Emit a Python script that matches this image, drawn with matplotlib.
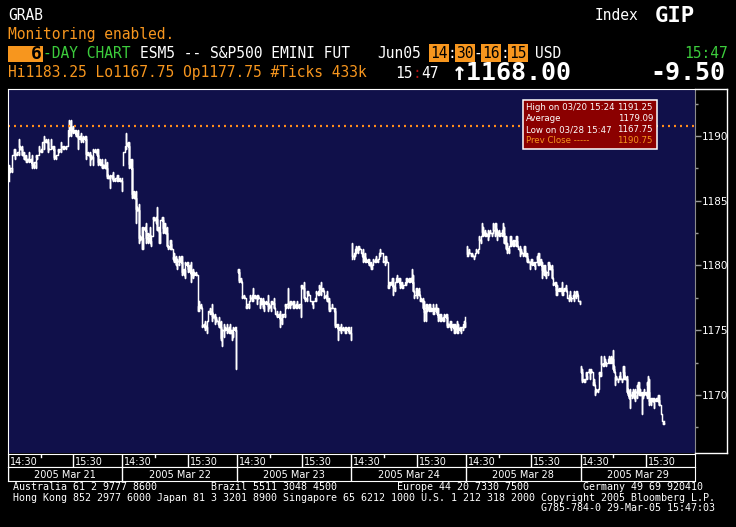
import numpy as np
import matplotlib.pyplot as plt
from matplotlib.lines import Line2D
from matplotlib.patches import Rectangle

W, H = 736, 527
BG = '#10104a'
ORANGE = '#f7961e'
GREEN = '#3ccc3c'
MONO = 'DejaVu Sans Mono'

days = ['2005 Mar 21', '2005 Mar 22', '2005 Mar 23', '2005 Mar 24', '2005 Mar 28', '2005 Mar 29']
time_labels = ['14:30', '15:30']
time_offsets = [0, 60]
session_minutes = 105     # 14:30 - 16:15
last_minutes = 77         # Mar 29 up to 15:47
prev_close = 1190.75
yticks = [1170, 1175, 1180, 1185, 1190]

info_labels = ['High on 03/20 15:24', 'Average', 'Low on 03/28 15:47', 'Prev Close -----']
info_values = ['1191.25', '1179.09', '1167.75', '1190.75']

mar21_hi = [1187.75, 1187.5, 1188.5, 1189, 1189, 1188.75, 1189.75, 1189.25, 1189.25, 1188.75,
            1188.5, 1188.25, 1188.75, 1188.25, 1188.5, 1188, 1188.5, 1188.5, 1189.25, 1189,
            1189.5, 1190, 1189.75, 1189.75, 1189, 1189.75, 1189.25, 1189.25, 1188.5, 1189,
            1189, 1189.5, 1189.25, 1189.25, 1189.25, 1190.5, 1191.25, 1191.25, 1190.75, 1190.5,
            1190.5, 1190.5, 1190, 1190.25, 1190, 1190, 1190, 1188.75, 1188.75, 1188.5,
            1189, 1189, 1189, 1189, 1188.25, 1188.25, 1187.75, 1188.25, 1188, 1187,
            1187, 1187, 1187.25, 1186.75, 1187, 1187, 1186.75, 1186.75]
mar21_lo = [1186.5, 1187.25, 1187.25, 1188.5, 1188.25, 1188.5, 1188.5, 1189, 1188.5, 1188.25,
            1188, 1188, 1188, 1188, 1187.5, 1187.5, 1187.5, 1188.25, 1188.5, 1188.75,
            1188.75, 1189, 1189.5, 1188.75, 1189, 1189, 1189, 1188.25, 1188.25, 1188.5,
            1188.75, 1188.75, 1189, 1189, 1189, 1189.25, 1190, 1190, 1190.25, 1190.25,
            1190, 1189, 1189.75, 1189.5, 1189.5, 1189.75, 1188.25, 1188.5, 1187.75, 1188.25,
            1187.75, 1188.75, 1188.5, 1187.75, 1187.75, 1187.5, 1187.5, 1187.5, 1186.75, 1186.75,
            1186, 1186.75, 1186.5, 1186.5, 1186.5, 1186.5, 1186.5, 1185.75]

mar22_hi = [1188.75, 1189.25, 1190.25, 1189.5, 1189.5, 1188.25, 1188.25, 1185.75, 1185.75, 1184.5,
            1184.75, 1182.25, 1183, 1183, 1183, 1183.25, 1182.5, 1183, 1182.25, 1183.75,
            1183.75, 1183.75, 1184.5, 1183, 1183.5, 1183.75, 1183.75, 1183.25, 1183, 1181.5,
            1182, 1182, 1181.25, 1181, 1180.75, 1180.5, 1180.75, 1180.75,
            1180.75, 1179.75, 1180.25, 1180.25, 1180.25, 1180, 1180.25, 1179.75, 1179.5, 1179.5,
            1179.25, 1177.25, 1177, 1176.75, 1175.5, 1175.75, 1175.75, 1176.5, 1176.75, 1177,
            1176.25, 1176.25, 1176, 1175.75, 1176, 1175.75, 1175, 1175.5, 1175.25, 1175.5,
            1175.25, 1175.5, 1175, 1175.25, 1175.25, 1175.25]
mar22_lo = [1187.75, 1189, 1189, 1189.25, 1187.5, 1187.5, 1185.25, 1185.25, 1183.25, 1184.25,
            1181.75, 1182, 1181.25, 1181.25, 1182.75, 1181.75, 1181.75, 1181.75, 1181.5, 1182.5,
            1183.5, 1183.25, 1182.75, 1181.75, 1181.75, 1183.5, 1182.5, 1182.5, 1181.5, 1181.25,
            1181.25, 1181.25, 1180.5, 1180.25, 1180, 1179.75, 1180, 1180.25,
            1179.25, 1179.25, 1179, 1180, 1179.5, 1179.5, 1178.75, 1179, 1179.25, 1179.25,
            1176.5, 1176.5, 1176.75, 1175.25, 1175.25, 1175, 1174.75, 1175.75, 1176.25, 1175.75,
            1176, 1175.5, 1175.75, 1175.5, 1175.25, 1174.25, 1173.75, 1174.5, 1175, 1174.75,
            1174.75, 1174.75, 1174.25, 1174.5, 1175, 1172]

mar23_hi = [1179.75, 1179.75, 1179, 1178.75, 1177.75, 1177.5, 1177, 1177.25, 1177.75, 1177.75,
            1178.25, 1177.75, 1177.75, 1177.75, 1177.5, 1177.5, 1177.5, 1177.25, 1177.25, 1177.75,
            1177, 1177.25, 1177.25, 1177.5, 1176.5, 1176.5, 1176.25, 1176.5, 1176.25, 1176.25,
            1177, 1177, 1178.25, 1177.25, 1177.25, 1177.25, 1177.25, 1177, 1177.25, 1177,
            1178.5, 1178.5, 1178.75, 1177.5, 1178, 1178, 1177.75, 1177.25, 1177.25, 1177.5,
            1178, 1178, 1178.5, 1178.75, 1178.25, 1178, 1177.75, 1178, 1177.5, 1176.75,
            1177, 1176.75, 1176.75, 1175.5, 1175.5, 1175.25, 1175.5, 1175.25, 1175.25, 1175.25,
            1175.25, 1175.25, 1175.25]
mar23_lo = [1179.5, 1178.75, 1178.75, 1177.5, 1177.5, 1176.75, 1176.75, 1176.75, 1177.25, 1177.25,
            1177.25, 1177.5, 1177, 1177.5, 1176.75, 1177, 1176.75, 1176.5, 1177, 1176.5,
            1176.75, 1176.5, 1177, 1176.75, 1176.25, 1176, 1176, 1175.25, 1175.5, 1176,
            1176, 1176.75, 1176.75, 1176.75, 1177, 1176.75, 1176.75, 1176.75, 1176.75, 1176.75,
            1176, 1178.25, 1177.5, 1177.25, 1177.25, 1177.75, 1177.25, 1177, 1176.75, 1177.25,
            1177.25, 1177.75, 1177.75, 1177.75, 1178, 1177.5, 1177.5, 1177.25, 1176.5, 1176.5,
            1176.75, 1176.5, 1175.25, 1175.25, 1174.25, 1175, 1174.75, 1175, 1174.75, 1174.75,
            1175, 1174.75, 1174.25]

mar24_hi = [1181.75, 1181, 1181.25, 1181.5, 1181.5, 1181.5, 1181.25, 1181, 1181.25, 1181,
            1180.5, 1180.5, 1180.5, 1180.25, 1180, 1180.5, 1180.5, 1180.75, 1180.5, 1181,
            1181.25, 1181, 1181, 1180.75, 1180.75, 1180.25, 1178.75, 1178.75, 1179, 1179,
            1178.75, 1179, 1179.25, 1179, 1179, 1178.75, 1178.5, 1178.75, 1179, 1179,
            1179, 1179, 1179.75, 1179.25, 1177.75, 1178.25, 1178.25, 1178.25, 1177.5, 1177.5,
            1177.5, 1177.25, 1177, 1177, 1177, 1177, 1176.75, 1177, 1176.75, 1177,
            1176.75, 1176.75, 1176.25, 1176.25, 1176, 1176.25, 1176.25, 1176.25, 1175.5, 1175.75,
            1175.75, 1175.5, 1175.5, 1175.5, 1175.75, 1175.5, 1175.25, 1175.25, 1175.5, 1175.75,
            1176]
mar24_lo = [1180.5, 1180.5, 1180.75, 1181, 1181, 1181.25, 1181, 1180.75, 1180.25, 1180.25,
            1180.25, 1180.25, 1180, 1179.75, 1179.75, 1180, 1180.25, 1180.25, 1180.25, 1180.5,
            1180.75, 1181, 1180.25, 1180, 1180.25, 1178.25, 1178.25, 1178.5, 1178.5, 1177.75,
            1178, 1178.75, 1178.75, 1178.75, 1178.25, 1178.25, 1178.25, 1178.5, 1178.5, 1178.75,
            1178.75, 1178.75, 1178.75, 1178, 1177.5, 1177.75, 1177.5, 1177.75, 1177.25, 1177.25,
            1176.75, 1175.75, 1175.75, 1176.5, 1176.5, 1176.5, 1176.5, 1176.25, 1176.25, 1176.5,
            1176.25, 1175.75, 1175.75, 1175.75, 1175.75, 1175.75, 1176, 1175.25, 1175.25, 1175.25,
            1175, 1175.25, 1174.75, 1174.75, 1174.75, 1174.75, 1175, 1174.75, 1175, 1175.25,
            1175.25]

mar28_hi = [1181.5, 1181, 1181.25, 1181, 1181, 1180.75, 1181, 1181.25, 1181.25, 1182.25,
            1182.25, 1183.25, 1183, 1182.75, 1182.5, 1182.75, 1182.5, 1182.75, 1182.5, 1183.25,
            1183.25, 1183.25, 1182.75, 1182.75, 1182.5, 1182.75, 1183.25, 1183, 1182.25, 1181.75,
            1181.5, 1182.25, 1182.25, 1182, 1182, 1182.25, 1182.25, 1181.5, 1181.5, 1181.25,
            1181, 1181.5, 1181.5, 1181, 1180.5, 1180.25, 1180.5, 1180.5, 1180.25, 1180.25,
            1180.75, 1181, 1181, 1180.5, 1180.25, 1180, 1180, 1179.5, 1180.25, 1180.25,
            1180, 1180, 1179, 1178.75, 1178.75, 1178.5, 1178.25, 1178.25, 1178.75, 1178,
            1178.25, 1178.5, 1178, 1177.75, 1178, 1177.5, 1177.75, 1178, 1178, 1178,
            1177.5, 1177.25]
mar28_lo = [1180.75, 1180.75, 1181, 1180.75, 1180.75, 1180.5, 1180.75, 1181, 1181, 1181.75,
            1181.75, 1182.25, 1182.25, 1182.25, 1182.25, 1182, 1182.25, 1182.5, 1182.25, 1182.5,
            1182.25, 1182.5, 1182, 1182.25, 1182.25, 1182.25, 1182.5, 1181.75, 1181.25, 1181,
            1181, 1181.5, 1181.5, 1181.5, 1181.5, 1181.5, 1181.5, 1181.25, 1180.75, 1181,
            1180.75, 1181, 1180.75, 1180.25, 1180.25, 1179.75, 1180.25, 1180, 1180, 1179.75,
            1180.25, 1180, 1180, 1180, 1179, 1179.25, 1179.25, 1179, 1179.25, 1179.75,
            1179.75, 1179, 1178.5, 1178.5, 1177.75, 1177.75, 1178, 1178, 1177.75, 1177.75,
            1178, 1178, 1177.5, 1177.25, 1177.5, 1177.25, 1177.5, 1177.25, 1177.5, 1177.75,
            1177.25, 1177]

mar29_hi = [1172.25, 1172, 1171.25, 1171.25, 1171.75, 1171.75, 1172, 1172, 1172, 1171.25,
            1171.25, 1170.75, 1170.5, 1170.5, 1171.75, 1171.75, 1173, 1172.5, 1173, 1172.75,
            1172.5, 1172.75, 1173, 1172.75, 1173, 1173.5, 1172.25, 1171.75, 1171.5, 1171.25,
            1171.5, 1171.75, 1171.25, 1172.25, 1172.25, 1171.5, 1171.5, 1170.5, 1170.25, 1170.5,
            1170.25, 1170.5, 1170.25, 1170.5, 1170.75, 1171, 1171, 1170.5, 1170.25, 1170.25,
            1170.5, 1170.25, 1171, 1171.5, 1171.25, 1169.75, 1169.75, 1169.75, 1169.75, 1169.75,
            1169.75, 1170, 1170, 1169, 1168.25, 1168, 1168]
mar29_lo = [1171.75, 1171, 1171, 1171, 1171.25, 1171.25, 1171.75, 1171.25, 1171.75, 1170.75,
            1170.75, 1170, 1170.25, 1170.25, 1170.5, 1171.5, 1171.5, 1172.25, 1172.25, 1172.5,
            1172.25, 1172.5, 1172.5, 1172.5, 1172.5, 1172, 1171.75, 1170.75, 1171.25, 1171,
            1171.25, 1171.25, 1171, 1171.25, 1171.25, 1171.25, 1170.25, 1170, 1169.75, 1169,
            1169.75, 1170, 1169.75, 1169.5, 1169.75, 1170.25, 1170, 1170, 1168.5, 1169.75,
            1170, 1170, 1169.75, 1170, 1169.25, 1169.25, 1169.5, 1169.5, 1169, 1169.5,
            1169.5, 1169.5, 1169.25, 1168.5, 1168, 1167.75, 1167.75]

highs = [mar21_hi, mar22_hi, mar23_hi, mar24_hi, mar28_hi, mar29_hi]
lows = [mar21_lo, mar22_lo, mar23_lo, mar24_lo, mar28_lo, mar29_lo]


def fx(x):
    return x / W


def fy(y):
    return 1 - y / H


def bar_path(x, hi, lo):
    # high-low bars joined by a horizontal step to the next bar
    xs, ys = [], []
    for i in range(len(x)):
        xs += [x[i], x[i]]
        ys += [lo[i], hi[i]]
        if i + 1 < len(x):
            c = min(max((hi[i+1] + lo[i+1]) / 2, lo[i]), hi[i])
            xs += [x[i], x[i+1]]
            ys += [c, c]
    return xs, ys


fig = plt.figure(figsize=(W / 100, H / 100), dpi=100, facecolor='black')

# price panel
ax = fig.add_axes([fx(8), fy(453), (695 - 8) / W, (453 - 89) / H], facecolor=BG)
total = session_minutes * len(days)
ax.set_xlim(0, total)
ax.set_ylim(1165.52, 1193.63)

for k, (hi, lo) in enumerate(zip(highs, lows)):
    end = last_minutes if k == len(days) - 1 else session_minutes - 0.6
    x = k * session_minutes + np.linspace(0.6, end, len(hi))
    xs, ys = bar_path(x, hi, lo)
    ax.plot(xs, ys, color='white', lw=1.05)

ax.axhline(prev_close, color='#ff8c1a', lw=1.6, ls=(0, (0.9, 1.8)))

ax.yaxis.tick_right()
ax.set_yticks(yticks)
ax.set_yticks(np.arange(1167.5, 1193, 5), minor=True)
ax.set_xticks([])
ax.tick_params(axis='y', which='major', colors='#9a9a9a', labelcolor='white',
               length=4, width=1, labelsize=7.5, pad=1)
ax.tick_params(axis='y', which='minor', colors='#9a9a9a', length=2, width=1)
ax.spines['left'].set_color('white')
ax.spines['top'].set_color('white')
ax.spines['right'].set_color('#8c8c8c')
ax.spines['bottom'].set_visible(False)

# summary box
fig.add_artist(Rectangle((fx(523), fy(149)), (657 - 523) / W, (149 - 100) / H,
                         transform=fig.transFigure, facecolor='#8b0000',
                         edgecolor='white', lw=1.1))
for i, (lab, val) in enumerate(zip(info_labels, info_values)):
    col = ORANGE if i == len(info_labels) - 1 else 'white'
    yy = fy(107 + i * 11.3)
    fig.text(fx(526), yy, lab, color=col, fontsize=6.2, va='center')
    fig.text(fx(653), yy, val, color=col, fontsize=6.2, va='center', ha='right')

# time row and date row under the chart
axt = fig.add_axes([fx(8), fy(467), (695 - 8) / W, 13 / H], facecolor='black')
axd = fig.add_axes([fx(8), fy(481), (695 - 8) / W, 14 / H], facecolor='black')
for a in (axt, axd):
    a.set_xlim(0, total)
    a.set_ylim(0, 1)
    a.set_xticks([])
    a.set_yticks([])
    for s in a.spines.values():
        s.set_color('white')

for k, day in enumerate(days):
    x0 = k * session_minutes
    for lab, off in zip(time_labels, time_offsets):
        axt.axvline(x0 + off, color='white', lw=1)
        axt.text(x0 + off + 1.5, 0.42, lab, color='white', fontsize=7, va='center')
    axt.plot([x0 + 30, x0 + 30], [0.8, 1], color='white', lw=1)
    axd.axvline(x0, color='white', lw=1)
    axd.text(x0 + session_minutes / 2, 0.45, day, color='white', fontsize=7,
             va='center', ha='center')

# outer frame around the price scale
for xs, ys in [([695, 727], [89, 89]), ([727, 727], [89, 453]), ([695, 727], [453, 453])]:
    fig.add_artist(Line2D([fx(v) for v in xs], [fy(v) for v in ys], color='white',
                          lw=1, transform=fig.transFigure))

# header
cw = 8.79


def col(c):
    return fx(8 + c * cw)


fig.text(fx(8), fy(16), 'GRAB', color='white', family=MONO, fontsize=10.5, va='center')
fig.text(fx(595), fy(16), 'Index', color='white', family=MONO, fontsize=10.5, va='center')
fig.text(fx(655), fy(16), 'GIP', color='white', family=MONO, fontsize=16,
         weight='bold', va='center')
fig.text(fx(8), fy(35), 'Monitoring enabled.', color=ORANGE, family=MONO,
         fontsize=10.5, va='center')

fig.add_artist(Rectangle((fx(8), fy(62)), 35 / W, 16 / H, transform=fig.transFigure,
                         facecolor=ORANGE, edgecolor='none'))
fig.text(fx(36), fy(54), '6', color='black', family=MONO, fontsize=13, weight='bold',
         va='center', ha='center')
fig.text(col(4), fy(53), '-DAY CHART', color=GREEN, family=MONO, fontsize=10.5, va='center')
fig.text(col(15), fy(53), 'ESM5 -- S&P500 EMINI FUT', color='white', family=MONO,
         fontsize=10.5, va='center')
fig.text(col(42), fy(53), 'Jun05', color='white', family=MONO, fontsize=10.5, va='center')
box = dict(boxstyle='square,pad=0.08', facecolor=ORANGE, edgecolor='none')
for c, s in [(48, '14'), (51, '30'), (54, '16'), (57, '15')]:
    fig.text(col(c), fy(53), s, color='black', family=MONO, fontsize=10.5,
             va='center', bbox=box)
for c, s in [(50, ':'), (53, '-'), (56, ':')]:
    fig.text(col(c), fy(53), s, color='white', family=MONO, fontsize=10.5, va='center')
fig.text(col(60), fy(53), 'USD', color='white', family=MONO, fontsize=10.5, va='center')
fig.text(fx(728), fy(53), '15:47', color=GREEN, family=MONO, fontsize=10.5,
         va='center', ha='right')

fig.text(fx(8), fy(73), 'Hi1183.25 Lo1167.75 Op1177.75 #Ticks 433k', color=ORANGE,
         family=MONO, fontsize=10.5, va='center')
fig.text(col(44), fy(73), '15', color='white', family=MONO, fontsize=10.5, va='center')
fig.text(col(46), fy(73), ':', color='#b01010', family=MONO, fontsize=10.5, va='center')
fig.text(col(47), fy(73), '47', color='white', family=MONO, fontsize=10.5, va='center')
fig.text(fx(452), fy(73), '\u21911168.00', color='white', family=MONO, fontsize=18,
         weight='bold', va='center')
fig.text(fx(725), fy(73), '-9.50', color='white', family=MONO, fontsize=18,
         weight='bold', va='center', ha='right')

# footer
foot = dict(color='white', family=MONO, fontsize=7.2, va='center')
fig.text(fx(13), fy(487), 'Australia 61 2 9777 8600' + ' ' * 9 + 'Brazil 5511 3048 4500'
         + ' ' * 10 + 'Europe 44 20 7330 7500' + ' ' * 9 + 'Germany 49 69 920410', **foot)
fig.text(fx(13), fy(498), 'Hong Kong 852 2977 6000 Japan 81 3 3201 8900 Singapore 65 6212 1000 '
         'U.S. 1 212 318 2000 Copyright 2005 Bloomberg L.P.', **foot)
fig.text(fx(541), fy(508), 'G785-784-0 29-Mar-05 15:47:03', **foot)

fig.savefig('out.png', dpi=100, facecolor='black')
